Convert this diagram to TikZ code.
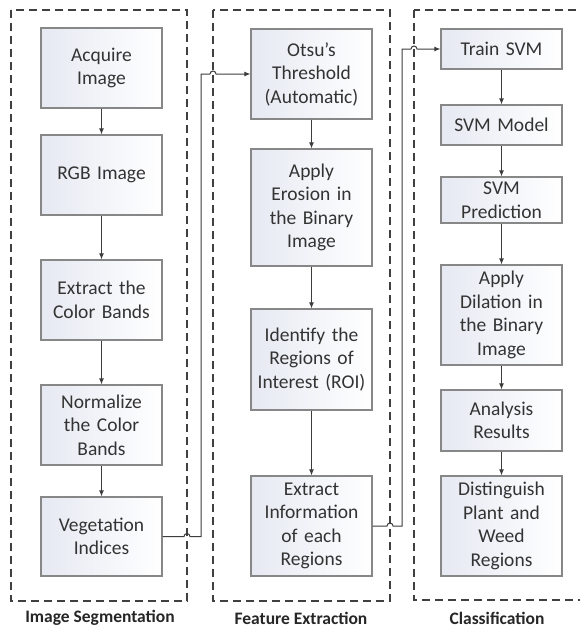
\documentclass[tikz,border=0pt]{standalone}
\usepackage{fontspec}
\setmainfont{Carlito}
\usetikzlibrary{arrows.meta}
\definecolor{boxline}{RGB}{135,135,135}
\definecolor{boxfill}{RGB}{230,233,242}
\definecolor{linkcol}{RGB}{60,60,60}
\begin{document}
\begin{tikzpicture}[x=1pt,y=-1pt,
	stepbox/.style={draw=boxline, line width=1.2pt, left color=boxfill, right color=white,
		minimum width=121pt, text width=118pt, align=center, inner sep=0pt,
		font=\fontsize{19.5}{23.5}\selectfont, text=black!80},
	panel/.style={draw=black!75, line width=1.6pt, dash pattern=on 8pt off 5pt},
	link/.style={draw=linkcol, line width=1pt, -{Latex[length=6pt,width=5pt]}},
	hopline/.style={draw=linkcol, line width=1pt},
	paneltitle/.style={font=\fontsize{17.5}{20}\selectfont\bfseries, text=black!85}]
	\useasboundingbox (0,0) rectangle (580,629);
	\fill[white] (0,0) rectangle (580,629);
	
	%Rahmen
	\draw[panel] (11,10) rectangle (187,601);
	\draw[panel] (213,10) rectangle (390,601);
	\draw[panel] (414,10) rectangle (620,600);
	\node[paneltitle] (tseg) at (100,618) {Image Segmentation};
	\node[paneltitle] (tfeat) at (301,618) {Feature Extraction};
	\node[paneltitle] (tclass) at (497,618) {Classification};
	
	%Image Segmentation
	\node[stepbox, minimum height=80pt] (acq) at (101.5,68) {Acquire\\Image};
	\node[stepbox, minimum height=80pt] (rgb) at (101.5,175) {RGB Image};
	\node[stepbox, minimum height=80pt] (ext) at (101.5,300) {Extract the\\Color Bands};
	\node[stepbox, minimum height=80pt] (nor) at (101.5,425) {Normalize\\the Color\\Bands};
	\node[stepbox, minimum height=79pt] (veg) at (101.5,536.5) {Vegetation\\Indices};
	
	%Feature Extraction
	\node[stepbox, minimum height=90pt] (otsu) at (311.5,74) {Otsu's\\Threshold\\(Automatic)};
	\node[stepbox, minimum height=117pt] (ero) at (311.5,207.5) {Apply\\Erosion in\\the Binary\\Image};
	\node[stepbox, minimum height=101pt] (roi) at (311.5,359.5) {Identify the\\Regions of\\Interest (ROI)};
	\node[stepbox, minimum height=100pt] (inf) at (311.5,526) {Extract\\Information\\of each\\Regions};
	
	%Classification
	\node[stepbox, minimum height=40pt] (train) at (501.5,49) {Train SVM};
	\node[stepbox, minimum height=40pt] (model) at (501.5,125) {SVM Model};
	\node[stepbox, minimum height=46pt] (pred) at (501.5,200) {SVM\\Prediction};
	\node[stepbox, minimum height=100pt] (dil) at (501.5,315) {Apply\\Dilation in\\the Binary\\Image};
	\node[stepbox, minimum height=61pt] (ana) at (501.5,420.5) {Analysis\\Results};
	\node[stepbox, minimum height=100pt] (dist) at (501.5,526) {Distinguish\\Plant and\\Weed\\Regions};
	
	%Pfeile
	\draw[link] (acq) -- (rgb);
	\draw[link] (rgb) -- (ext);
	\draw[link] (ext) -- (nor);
	\draw[link] (nor) -- (veg);
	\draw[link] (otsu) -- (ero);
	\draw[link] (ero) -- (roi);
	\draw[link] (roi) -- (inf);
	\draw[link] (train) -- (model);
	\draw[link] (model) -- (pred);
	\draw[link] (pred) -- (dil);
	\draw[link] (dil) -- (ana);
	\draw[link] (ana) -- (dist);
	
	%Verbindungen mit Sprung
	\coordinate (hopA) at (184,536.5);
	\coordinate (bendA) at (201,536.5);
	\coordinate (hopB) at (210,74);
	\draw[hopline] (veg.east) -- (hopA) arc[start angle=180, end angle=360, radius=3] -- (bendA) -- (201,74) -- (hopB);
	\draw[link] (hopB) arc[start angle=180, end angle=360, radius=3] -- (otsu.west);
	
	\coordinate (hopC) at (387,526);
	\coordinate (bendC) at (402,526);
	\coordinate (hopD) at (411,49);
	\draw[hopline] (inf.east) -- (hopC) arc[start angle=180, end angle=360, radius=3] -- (bendC) -- (402,49) -- (hopD);
	\draw[link] (hopD) arc[start angle=180, end angle=360, radius=3] -- (train.west);
\end{tikzpicture}
\end{document}
